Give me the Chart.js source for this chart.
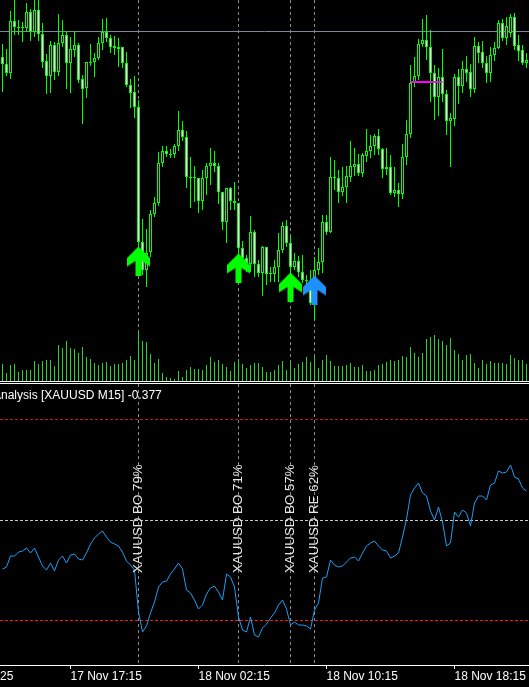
<!DOCTYPE html>
<html>
<head>
<meta charset="utf-8">
<script src="https://cdn.jsdelivr.net/npm/chart.js@4.4.1/dist/chart.umd.min.js"></script>
<style>
  html, body { margin: 0; padding: 0; background: #000; overflow: hidden; }
  #wrap { width: 529px; height: 687px; background: #000; }
  canvas { display: block; }
  .sep { height: 1px; background: #fff; }
  .gap { height: 1px; background: #000; }
</style>
</head>
<body>
<div id="wrap">
  <canvas id="price" width="529" height="381" style="width:529px;height:381px"></canvas>
  <div class="sep"></div><div class="gap"></div><div class="sep"></div>
  <canvas id="osc" width="529" height="303" style="width:529px;height:303px"></canvas>
</div>
<script>
// XAUUSD M15 candles
const opens = [4094.3,4093.6,4092.7,4097.9,4097.3,4097.2,4097.2,4098.8,4096.8,4099.0,
  4096.6,4093.9,4092.4,4095.5,4092.8,4095.7,4096.5,4093.7,4095.0,4095.5,
  4092.1,4091.2,4093.8,4093.8,4094.2,4095.7,4096.8,4096.2,4095.4,4095.3,
  4095.3,4093.7,4091.5,4090.8,4089.3,4075.8,4073.0,4074.8,4078.6,4079.7,
  4083.7,4084.9,4084.6,4084.6,4085.4,4087.0,4086.3,4082.3,4082.2,4082.2,
  4079.9,4082.2,4083.4,4083.7,4083.4,4080.8,4077.8,4081.2,4079.9,4079.7,
  4075.2,4074.2,4073.6,4076.8,4073.6,4072.7,4075.3,4072.6,4072.6,4073.3,
  4075.0,4077.4,4075.7,4073.3,4073.9,4072.8,4072.0,4071.9,4069.7,4073.0,
  4073.8,4077.8,4076.8,4082.3,4082.2,4080.8,4081.3,4082.3,4083.3,4083.6,
  4082.7,4084.4,4084.9,4085.4,4086.4,4085.1,4083.1,4083.3,4080.7,4081.0,
  4080.6,4084.3,4086.6,4091.7,4092.4,4095.6,4096.0,4095.3,4092.7,4090.3,
  4092.3,4090.6,4087.9,4088.1,4092.3,4091.4,4093.1,4092.8,4091.1,4095.4,
  4094.8,4093.7,4092.7,4094.5,4095.2,4097.7,4096.2,4096.7,4098.3,4095.5,
  4095.0,4093.7];
const highs = [4095.6,4095.1,4098.9,4100.2,4098.0,4097.8,4099.7,4099.1,4100.2,4100.2,
  4097.7,4094.6,4095.9,4095.8,4098.6,4098.0,4096.9,4096.3,4096.9,4095.7,
  4092.5,4093.8,4095.6,4094.7,4096.3,4098.1,4098.2,4096.5,4096.4,4096.2,
  4095.3,4094.8,4092.1,4092.4,4090.0,4078.1,4077.1,4079.0,4080.3,4084.8,
  4085.4,4085.4,4085.1,4085.6,4088.9,4087.9,4086.9,4084.3,4083.4,4082.2,
  4083.0,4083.7,4085.2,4084.9,4083.7,4080.8,4081.2,4081.3,4081.8,4079.7,
  4075.9,4074.5,4078.4,4077.0,4074.0,4075.4,4075.3,4073.3,4074.0,4076.7,
  4077.8,4078.0,4076.4,4074.7,4074.4,4074.5,4072.5,4073.0,4074.3,4075.2,
  4078.5,4078.5,4084.3,4084.0,4083.0,4083.3,4083.4,4085.9,4085.2,4084.6,
  4084.7,4087.1,4086.5,4086.6,4087.1,4085.2,4085.2,4084.5,4083.3,4081.7,
  4085.6,4088.0,4093.5,4094.3,4096.1,4098.1,4098.5,4097.0,4093.5,4093.2,
  4095.1,4091.0,4088.7,4092.6,4093.1,4093.9,4094.4,4093.6,4096.3,4095.8,
  4095.9,4094.4,4095.3,4095.8,4098.0,4098.1,4098.3,4098.6,4098.7,4096.5,
  4095.5,4094.7];
const lows = [4090.8,4092.4,4092.1,4096.5,4096.5,4095.8,4096.9,4095.9,4096.3,4095.9,
  4093.2,4090.6,4090.7,4092.0,4092.4,4095.3,4091.1,4090.7,4094.3,4091.7,
  4087.6,4090.2,4093.4,4092.3,4094.0,4095.0,4095.8,4094.7,4094.5,4093.3,
  4093.2,4091.3,4089.2,4088.2,4075.4,4072.5,4071.3,4074.3,4078.3,4079.4,
  4083.3,4084.3,4084.2,4084.2,4084.9,4085.9,4081.2,4079.2,4079.8,4078.7,
  4079.0,4080.5,4081.5,4082.8,4079.6,4077.0,4075.7,4079.0,4079.0,4073.8,
  4073.5,4072.8,4072.8,4072.3,4072.3,4070.4,4071.5,4071.8,4071.8,4071.8,
  4074.7,4075.3,4072.0,4073.0,4072.3,4071.7,4071.5,4069.5,4068.0,4072.5,
  4072.7,4076.5,4076.7,4081.0,4079.7,4080.4,4079.7,4081.8,4082.4,4082.4,
  4082.3,4083.8,4084.2,4084.5,4084.5,4082.2,4082.5,4080.5,4080.3,4079.3,
  4080.1,4083.5,4086.2,4091.3,4092.0,4095.3,4094.0,4089.8,4088.0,4088.4,
  4089.8,4086.5,4083.3,4087.4,4089.6,4090.7,4091.8,4090.3,4090.7,4093.7,
  4093.2,4091.7,4091.8,4093.9,4095.1,4095.9,4095.5,4096.3,4095.0,4093.9,
  4093.5,4093.2];
const closes = [4093.6,4092.7,4097.9,4097.3,4097.2,4097.3,4098.8,4096.8,4099.0,4096.6,
  4093.8,4092.4,4095.5,4092.8,4095.7,4096.5,4093.7,4095.1,4095.5,4092.0,
  4091.1,4093.8,4093.7,4094.2,4095.7,4096.8,4096.2,4095.3,4095.2,4095.1,
  4093.7,4091.5,4090.7,4089.3,4075.8,4073.0,4074.7,4078.6,4079.7,4083.7,
  4084.9,4084.6,4084.5,4085.4,4087.0,4086.3,4082.3,4082.2,4082.3,4079.9,
  4082.2,4083.4,4083.7,4083.4,4080.8,4077.8,4081.2,4079.9,4079.7,4075.2,
  4074.2,4073.7,4076.8,4073.6,4072.7,4075.3,4072.6,4072.6,4073.3,4075.0,
  4077.4,4075.7,4073.3,4073.9,4072.8,4072.0,4071.9,4069.7,4073.0,4073.8,
  4077.8,4076.8,4082.3,4082.2,4080.8,4081.3,4082.4,4083.4,4083.6,4082.7,
  4084.5,4084.9,4085.4,4086.4,4085.1,4083.1,4083.3,4080.7,4081.0,4080.6,
  4084.3,4086.6,4091.7,4092.4,4095.6,4096.0,4095.3,4092.7,4090.3,4092.3,
  4090.6,4087.9,4088.2,4092.3,4091.4,4093.1,4092.7,4091.1,4095.4,4094.7,
  4093.7,4092.7,4094.5,4095.2,4097.7,4096.2,4097.4,4098.3,4095.4,4094.9,
  4093.7,4094.0];
const volumes = [1700,800,1600,1700,900,1100,1100,1100,2000,1700,2000,2100,2100,1500,
  3600,3300,4000,3300,3200,2800,3400,2400,
  2200,1800,1600,1800,1900,1500,1700,1700,1800,2100,2500,2100,
  4800,
  4000,3900,2700,1800,2200,
  800,400,300,200,1000,
  400,1100,1400,1200,1200,1100,1600,2400,1900,2100,1700,1400,1000,1900,
  2200,1700,1300,1600,1800,1800,1400,900,900,1100,1600,2000,1100,
  1900,1300,1700,1900,2400,1900,2400,
  1300,2100,2600,2000,1500,1500,1500,1600,1800,1400,1400,1600,1000,1000,1100,1600,1700,1900,2100,2000,2100,2500,2400,
  3400,2800,2400,2800,4200,4400,4600,4200,4000,3600,4300,3100,2700,2100,2600,2700,1800,1300,2100,1700,2000,1800,1800,1800,1700,2600,2300,2100,2100,1700];

// analysis oscillator
const oscValues = [-0.49,-0.47,-0.36,-0.36,-0.32,-0.31,-0.28,-0.33,-0.28,-0.37,
  -0.46,-0.50,-0.43,-0.51,-0.40,-0.36,-0.43,-0.35,-0.34,-0.39,
  -0.40,-0.33,-0.24,-0.18,-0.14,-0.11,-0.17,-0.22,-0.24,-0.26,
  -0.32,-0.41,-0.45,-0.50,-0.92,-1.12,-1.06,-0.93,-0.82,-0.67,
  -0.62,-0.61,-0.54,-0.49,-0.43,-0.49,-0.70,-0.73,-0.80,-0.89,
  -0.85,-0.74,-0.68,-0.66,-0.72,-0.80,-0.54,-0.57,-0.67,-0.97,
  -1.10,-1.12,-0.97,-1.15,-1.17,-1.08,-1.04,-0.98,-0.93,-0.85,
  -0.80,-0.89,-1.05,-1.02,-1.05,-1.05,-1.06,-1.09,-0.90,-0.83,
  -0.58,-0.57,-0.40,-0.45,-0.47,-0.46,-0.42,-0.38,-0.37,-0.41,
  -0.33,-0.26,-0.23,-0.21,-0.26,-0.30,-0.31,-0.38,-0.36,-0.33,
  -0.17,0.01,0.25,0.32,0.37,0.27,0.24,0.09,0.00,0.13,
  -0.02,-0.26,-0.23,0.08,0.03,0.10,0.07,-0.06,0.17,0.24,
  0.24,0.20,0.35,0.37,0.49,0.47,0.48,0.55,0.43,0.41,
  0.32,0.29];
const oscLevels = [1, 0, -1];

// signals
const signalBars = [34, 59, 72, 78];
const signalText = ['XAUUSD BO 79%', 'XAUUSD BO 71%', 'XAUUSD BO 57%', 'XAUUSD RE 62%'];
const buyArrowBars = [34, 59, 72];
const buyArrowPrices = [4073.9, 4073.2, 4071.3];
const reArrowBars = [78];
const reArrowPrices = [4071.0];
const levelPrice = 4096.8;
const rangeBars = [102, 110];
const rangePrice = 4091.8;

// time axis
const xTickBars = [17, 49, 81, 113];
const xTickText = ['17 Nov 17:15', '18 Nov 02:15', '18 Nov 10:15', '18 Nov 18:15'];
const titleText = 'Analysis [XAUUSD M15] -0.377';

const CANDLE = '#00ff00';
const AXIS_FONT = '"Liberation Sans", Arial, sans-serif';
const labels = opens.map((_, i) => i);

function arrowImage(color) {
  const c = document.createElement('canvas');
  c.width = 23; c.height = 29;
  const g = c.getContext('2d');
  g.fillStyle = color;
  g.beginPath();
  g.moveTo(11.5, 0);
  g.lineTo(23, 11.5);
  g.lineTo(23, 20);
  g.lineTo(14.5, 14.5);
  g.lineTo(14.5, 29);
  g.lineTo(8.5, 29);
  g.lineTo(8.5, 14.5);
  g.lineTo(0, 20);
  g.lineTo(0, 11.5);
  g.closePath();
  g.fill();
  return c;
}

function sparse(bars, vals) {
  const out = labels.map(() => null);
  bars.forEach((b, k) => out[b] = vals[k]);
  return out;
}

const markerLines = {
  id: 'markerLines',
  beforeDatasetsDraw(chart, args, opts) {
    const { ctx, chartArea: a, scales } = chart;
    ctx.save();
    ctx.lineWidth = 1;
    (opts.levels || []).forEach(l => {
      const y = Math.floor(scales.y.getPixelForValue(l.value)) + 0.5;
      ctx.strokeStyle = l.color;
      ctx.setLineDash(l.dash);
      ctx.beginPath(); ctx.moveTo(0, y); ctx.lineTo(chart.width, y); ctx.stroke();
    });
    ctx.strokeStyle = '#8a8a8a';
    ctx.setLineDash([3, 3]);
    signalBars.forEach(b => {
      const x = Math.floor(scales.x.getPixelForValue(b)) + 0.5;
      ctx.beginPath(); ctx.moveTo(x, a.top); ctx.lineTo(x, a.bottom); ctx.stroke();
    });
    ctx.restore();
  }
};

const oscText = {
  id: 'oscText',
  afterDatasetsDraw(chart) {
    const { ctx, scales } = chart;
    ctx.save();
    ctx.fillStyle = '#e6e6e6';
    ctx.font = '13.3px ' + AXIS_FONT;
    ctx.textAlign = 'left';
    ctx.textBaseline = 'middle';
    signalBars.forEach((b, k) => {
      const x = scales.x.getPixelForValue(b);
      const y = scales.y.getPixelForValue(-0.53);
      ctx.save();
      ctx.translate(x, y);
      ctx.rotate(-Math.PI / 2);
      ctx.fillText(signalText[k], 0, 0);
      ctx.restore();
    });
    ctx.fillStyle = '#ffffff';
    ctx.font = '12px ' + AXIS_FONT;
    ctx.textBaseline = 'alphabetic';
    const aw = ctx.measureText('A').width;
    ctx.fillText(titleText, 1 - aw, 14.5);
    ctx.textBaseline = 'middle';
    ctx.fillText('25', 0, scales.x.top + 4 + 7.2);
    ctx.restore();
  }
};

new Chart(document.getElementById('price'), {
  type: 'bar',
  data: {
    labels: labels,
    datasets: [
      { type: 'bar', data: volumes, yAxisID: 'vol', backgroundColor: '#32cd32',
        barThickness: 1, grouped: false, inflateAmount: 0, order: 6 },
      { type: 'bar', data: lows.map((l, i) => [l, highs[i]]), yAxisID: 'y', backgroundColor: CANDLE,
        barThickness: 1, grouped: false, inflateAmount: 0, order: 4 },
      { type: 'bar', data: opens.map((o, i) => [o, closes[i]]), yAxisID: 'y',
        backgroundColor: opens.map((o, i) => closes[i] > o ? '#000000' : '#ffffff'),
        borderColor: CANDLE, borderWidth: 1, borderSkipped: false, minBarLength: 1,
        barThickness: 3, grouped: false, inflateAmount: 0, order: 3 },
      { type: 'line', data: labels.map(i => (i >= rangeBars[0] && i <= rangeBars[1]) ? rangePrice : null),
        yAxisID: 'y', borderColor: '#ff00ff', borderWidth: 2, pointRadius: 0, order: 2 },
      { type: 'line', data: sparse(buyArrowBars, buyArrowPrices), yAxisID: 'y', showLine: false,
        pointStyle: arrowImage('#00ff00'), pointRadius: 12, order: 1 },
      { type: 'line', data: sparse(reArrowBars, reArrowPrices), yAxisID: 'y', showLine: false,
        pointStyle: arrowImage('#1e90ff'), pointRadius: 12, order: 0 }
    ]
  },
  options: {
    responsive: false,
    devicePixelRatio: 1,
    animation: false,
    layout: { autoPadding: false, padding: { left: 0.5, right: 0.5, top: 0, bottom: 0 } },
    plugins: {
      legend: { display: false },
      tooltip: { enabled: false },
      markerLines: { levels: [{ value: levelPrice, color: '#7a8aa0', dash: [] }] }
    },
    scales: {
      x: { type: 'category', offset: true, display: false },
      y: { display: false, min: 4061.9, max: 4100 },
      vol: { display: false, min: 0, max: 38100 }
    }
  },
  plugins: [markerLines]
});

new Chart(document.getElementById('osc'), {
  type: 'line',
  data: {
    labels: labels,
    datasets: [{ data: oscValues, borderColor: '#1a9ff5', borderWidth: 1, pointRadius: 0, tension: 0 }]
  },
  options: {
    responsive: false,
    devicePixelRatio: 1,
    animation: false,
    layout: { autoPadding: false, padding: { left: 0.5, right: 0.5, top: 0, bottom: 0 } },
    plugins: {
      legend: { display: false },
      tooltip: { enabled: false },
      markerLines: { levels: [
        { value: oscLevels[0], color: '#c81c1c', dash: [3, 2] },
        { value: oscLevels[1], color: '#c8c8c8', dash: [3, 2] },
        { value: oscLevels[2], color: '#ff1a1a', dash: [3, 2] }
      ] }
    },
    scales: {
      x: {
        type: 'category', offset: true,
        grid: { offset: false, drawOnChartArea: false, drawTicks: true, tickLength: 4,
          color: c => xTickBars.includes(c.index) ? '#ffffff' : 'rgba(0,0,0,0)' },
        border: { display: true, color: '#ffffff', width: 1 },
        ticks: {
          autoSkip: false, maxRotation: 0, minRotation: 0, align: 'start', padding: 0,
          color: '#ffffff', font: { family: AXIS_FONT, size: 12 },
          callback: (v, i) => { const k = xTickBars.indexOf(i); return k >= 0 ? xTickText[k] : ''; }
        },
        afterFit: s => { s.height = 22; }
      },
      y: { display: false, min: -1.45, max: 1.36 }
    }
  },
  plugins: [markerLines, oscText]
});
</script>
</body>
</html>
